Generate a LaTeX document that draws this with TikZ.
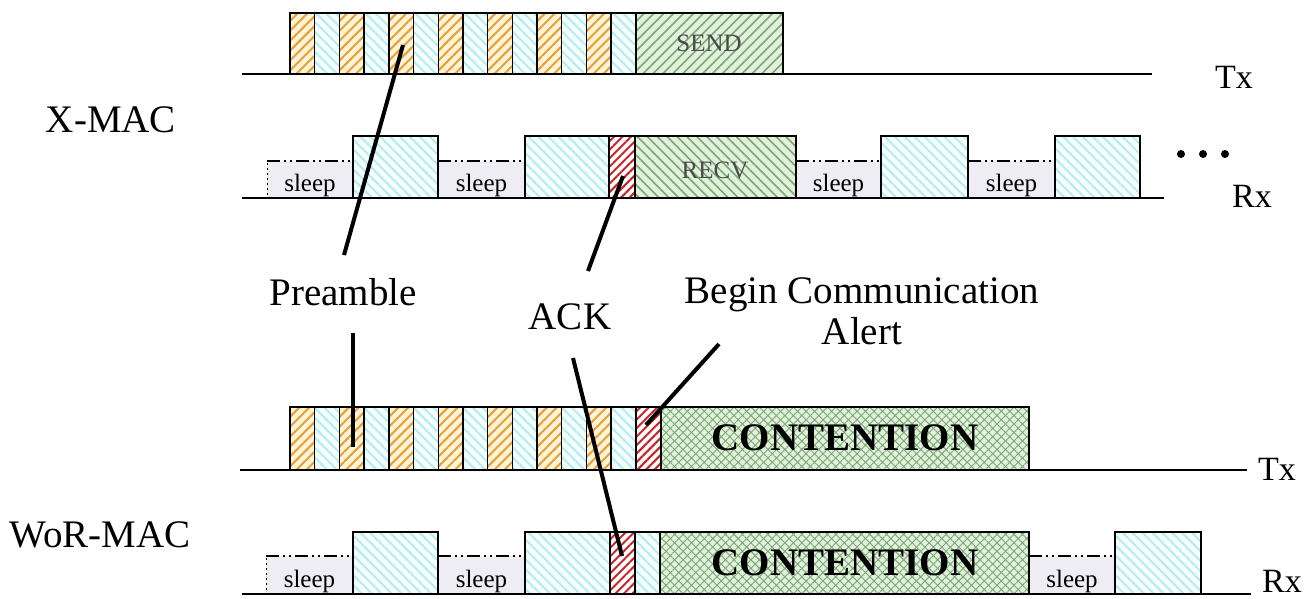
\documentclass[tikz,border=0pt]{standalone}
\usepackage{fontspec}
\setmainfont{Liberation Serif}
\usetikzlibrary{patterns.meta}
\definecolor{orL}{HTML}{E6A036}
\definecolor{orB}{HTML}{FFF3D8}
\definecolor{cyL}{HTML}{B6ECEC}
\definecolor{cyB}{HTML}{F6FFFF}
\definecolor{grL}{HTML}{78A874}
\definecolor{grB}{HTML}{E2F0DC}
\definecolor{rdL}{HTML}{C8242B}
\definecolor{slB}{HTML}{EDEDF3}
\definecolor{txG}{HTML}{4A4A4A}
\newcommand\labfont{\fontsize{39}{42}\selectfont}
\newcommand\txfont{\fontsize{34}{38}\selectfont}
\newcommand\smfont{\fontsize{25}{28}\selectfont}
\tikzset{
  slot/.style={draw=black, line width=1.4pt},
  orslot/.style={slot, preaction={fill=orB}, pattern={Lines[angle=45,distance=7pt,line width=2pt]}, pattern color=orL},
  cyslot/.style={slot, preaction={fill=cyB}, pattern={Lines[angle=-45,distance=7pt,line width=2pt]}, pattern color=cyL},
  rdslot/.style={slot, preaction={fill=white}, pattern={Lines[angle=45,distance=6pt,line width=2pt]}, pattern color=rdL},
  sendslot/.style={slot, preaction={fill=grB}, pattern={Lines[angle=45,distance=7pt,line width=1.6pt]}, pattern color=grL},
  recvslot/.style={slot, preaction={fill=grB}, pattern={Lines[angle=-45,distance=7pt,line width=1.6pt]}, pattern color=grL},
  contslot/.style={slot, preaction={fill=grB}, pattern={Hatch[angle=45,distance=6pt,line width=0.9pt]}, pattern color=grL},
  sleepfill/.style={fill=slB},
  sleeptop/.style={draw=black, line width=1.6pt, dash pattern=on 13pt off 4pt on 2pt off 4pt on 2pt off 4pt},
  sleepleft/.style={draw=black, line width=1pt, dash pattern=on 2pt off 3pt},
  axis/.style={draw=black, line width=2pt},
  conn/.style={draw=black, line width=4pt},
  lab/.style={inner sep=0pt, font=\labfont},
  txlab/.style={inner sep=0pt, font=\txfont, anchor=base west},
  sleeplab/.style={inner sep=0pt, font=\smfont, anchor=base},
  boxlab/.style={inner sep=0pt, font=\smfont, text=txG},
  contlab/.style={inner sep=0pt, font=\labfont\bfseries},
  dot/.style={fill=black, circle, inner sep=0pt, minimum size=8pt}
}
\begin{document}
\begin{tikzpicture}[x=1pt,y=-1pt]
\useasboundingbox[fill=white] (0,0) rectangle (1314,598);

% ---------- X-MAC Tx ----------
\foreach \i in {0,2,...,12} \path[orslot] ({290+24.7*\i},13) rectangle ({290+24.7*(\i+1)},74);
\foreach \i in {1,3,...,13} \path[cyslot] ({290+24.7*\i},13) rectangle ({290+24.7*(\i+1)},74);
\path[sendslot] (635.8,13) rectangle (783,74);
\node[boxlab] (send) at (709,43) {SEND};
\draw[axis] (242,74) -- (1152,74);
\node[txlab] (tx1) at (1215,88) {Tx};

% ---------- X-MAC Rx ----------
\foreach \a/\b in {267/353, 438/525, 796/881, 968/1055} {
  \path[sleepfill] (\a,161) rectangle (\b,198);
  \draw[sleeptop] (\a,161) -- (\b,161);
}
\draw[sleepleft] (267,163) -- (267,198);
\foreach \a/\b in {353/438, 525/609, 881/968, 1055/1140} \path[cyslot] (\a,136) rectangle (\b,198);
\path[rdslot] (609,136) rectangle (635,198);
\path[recvslot] (635,136) rectangle (796,198);
\node[boxlab] (recv) at (715,170) {RECV};
\node[sleeplab] (s1) at (310,191) {sleep};
\node[sleeplab] (s2) at (481.5,191) {sleep};
\node[sleeplab] (s3) at (838.5,191) {sleep};
\node[sleeplab] (s4) at (1011.5,191) {sleep};
\draw[axis] (242,198) -- (1164,198);
\node[dot] (d1) at (1181,154) {};
\node[dot] (d2) at (1203,154) {};
\node[dot] (d3) at (1225,154) {};
\node[txlab] (rx1) at (1232,207) {Rx};

% ---------- WoR Tx ----------
\foreach \i in {0,2,...,12} \path[orslot] ({290+24.7*\i},407) rectangle ({290+24.7*(\i+1)},470);
\foreach \i in {1,3,...,13} \path[cyslot] ({290+24.7*\i},407) rectangle ({290+24.7*(\i+1)},470);
\path[rdslot] (635.8,407) rectangle (661,470);
\path[contslot] (661,407) rectangle (1029,470);
\node[contlab] (cont1) at (845,438) {CONTENTION};
\draw[axis] (240,470) -- (1247,470);
\node[txlab] (tx2) at (1258,480) {Tx};

% ---------- WoR Rx ----------
\foreach \a/\b in {266/353, 438/525, 1029/1115} {
  \path[sleepfill] (\a,556) rectangle (\b,594);
  \draw[sleeptop] (\a,556) -- (\b,556);
}
\draw[sleepleft] (266,558) -- (266,594);
\foreach \a/\b in {353/438, 525/610, 635/660, 1115/1201} \path[cyslot] (\a,532) rectangle (\b,594);
\path[rdslot] (610,532) rectangle (635,594);
\path[contslot] (660,532) rectangle (1029,594);
\node[contlab] (cont2) at (845,563) {CONTENTION};
\node[sleeplab] (s5) at (309.5,587) {sleep};
\node[sleeplab] (s6) at (481.5,587) {sleep};
\node[sleeplab] (s7) at (1072,587) {sleep};
\draw[axis] (242,594) -- (1251,594);
\node[txlab] (rx2) at (1262,592) {Rx};

% ---------- labels ----------
\node[lab, anchor=base] (xmac) at (111,132) {X-MAC};
\node[lab, anchor=base] (wormac) at (100,547) {WoR-MAC};
\node[lab, anchor=base] (pre) at (343,305) {Preamble};
\node[lab, anchor=base] (ack) at (570,329) {ACK};
\node[lab, anchor=base] (bca) at (862,303) {Begin Communication};
\node[lab, anchor=base] (alert) at (862,344) {Alert};

% ---------- connectors ----------
\coordinate (preT) at (403,45);
\coordinate (preA) at (344,255);
\coordinate (preB) at (353,333);
\coordinate (preW) at (353,447);
\coordinate (ackT) at (623,176);
\coordinate (ackA) at (588,271);
\coordinate (ackB) at (573,358);
\coordinate (ackW) at (622,556);
\coordinate (bcaA) at (719,344);
\coordinate (bcaW) at (646,425);
\draw[conn] (preT) -- (preA);
\draw[conn] (preB) -- (preW);
\draw[conn] (ackT) -- (ackA);
\draw[conn] (ackB) -- (ackW);
\draw[conn] (bcaA) -- (bcaW);
\end{tikzpicture}
\end{document}
